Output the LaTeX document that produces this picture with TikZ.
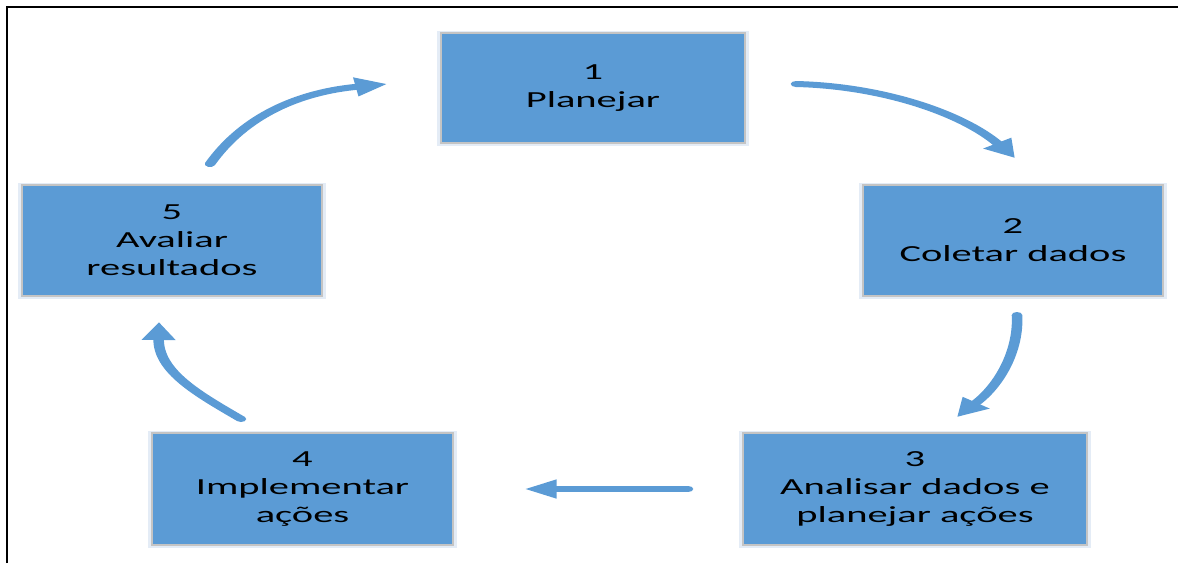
\documentclass[tikz,border=0pt]{standalone}
\usepackage{fontspec}
\setmainfont{Carlito}
\usetikzlibrary{arrows.meta}
\definecolor{boxblue}{HTML}{5B9BD5}
\definecolor{arrowblue}{HTML}{5B9BD5}
\definecolor{boxborder}{HTML}{C4C4C4}
\definecolor{halo}{HTML}{E4ECF6}
\tikzset{
  box/.style={fill=boxblue, draw=boxborder, line width=1.2pt, inner sep=0pt,
    align=center, text=black, font=\fontsize{23}{28}\selectfont,
    preaction={draw=halo, line width=5pt}},
  arr/.style={draw=arrowblue, line width=6pt, line cap=round,
    -{Triangle[length=18pt,width=18pt]}},
  frameline/.style={draw=black, line width=2.3pt}
}
\begin{document}
\begin{tikzpicture}[x=1pt,y=-1pt]
\useasboundingbox (0,0) rectangle (1178,563);
\coordinate (fa) at (7,563);
\coordinate (fb) at (7,7);
\coordinate (fc) at (1178,7);
\draw[frameline] (fa) -- (fb) -- (fc);
\begin{scope}[x=0.568182pt, transform canvas={xscale=1.76}]
  \node[box, minimum width=172.7pt, minimum height=110pt] (n1) at (593,88) {1\\Planejar};
  \node[box, minimum width=170.5pt, minimum height=111pt] (n2) at (1013,240.5) {2\\Coletar dados};
  \node[box, minimum width=195.5pt, minimum height=112pt] (n3) at (915,489) {3\\Analisar dados e\\planejar ações};
  \node[box, minimum width=171pt, minimum height=112pt] (n4) at (302.5,489) {4\\Implementar\\ações};
  \node[box, minimum width=170.5pt, minimum height=111pt] (n5) at (172,240.5) {5\\Avaliar\\resultados};
  % arrows
  \coordinate (a1s) at (796,84);   \coordinate (a1e) at (1015,158);
  \coordinate (a2s) at (1017,315); \coordinate (a2e) at (957,417);
  \coordinate (a3s) at (688,489);  \coordinate (a3e) at (525,489);
  \coordinate (a4s) at (241,419);  \coordinate (a4e) at (159,322);
  \coordinate (a5s) at (210,164);  \coordinate (a5e) at (387,84);
  \draw[arr] (a1s) .. controls (880,86) and (960,112) .. (a1e);
  \draw[arr] (a2s) .. controls (1019,350) and (1000,385) .. (a2e);
  \draw[arr] (a3s) -- (a3e);
  \draw[arr] (a4s) .. controls (200,395) and (158,372) .. (a4e);
  \draw[arr] (a5s) .. controls (245,115) and (300,92) .. (a5e);
\end{scope}
\end{tikzpicture}
\end{document}
